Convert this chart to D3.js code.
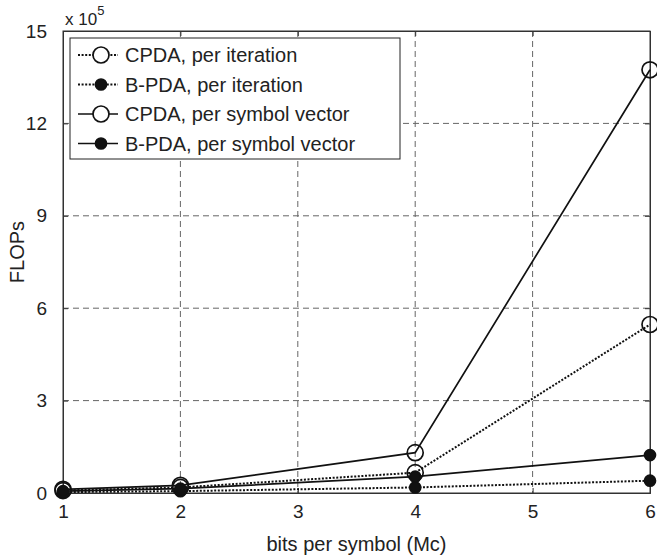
<!DOCTYPE html>
<html lang="en">
<head>
<meta charset="UTF-8">
<title>FLOPs vs bits per symbol</title>
<script src="https://d3js.org/d3.v7.min.js"></script>
<style>
  body { margin: 0; background: #fff; }
  text { font-family: "Liberation Sans", Arial, sans-serif; fill: #222; }
</style>
</head>
<body>
<div id="chart"></div>
<script>
// data (FLOPs in units of 1e5)
const bits = [1, 2, 4, 6];
const cpdaIter = [0.08, 0.18, 0.66, 5.47];
const bpdaIter = [0.03, 0.06, 0.18, 0.40];
const cpdaSym = [0.12, 0.25, 1.31, 13.74];
const bpdaSym = [0.06, 0.14, 0.53, 1.23];
const xTicks = [1, 2, 3, 4, 5, 6];
const yTicks = [0, 3, 6, 9, 12, 15];

const series = [
  { name: "CPDA, per iteration", values: cpdaIter, dotted: true, filled: false },
  { name: "B-PDA, per iteration", values: bpdaIter, dotted: true, filled: true },
  { name: "CPDA, per symbol vector", values: cpdaSym, dotted: false, filled: false },
  { name: "B-PDA, per symbol vector", values: bpdaSym, dotted: false, filled: true }
];

const W = 657, H = 557;
const margin = { top: 31, right: 7, bottom: 64, left: 63 };
const width = W - margin.left - margin.right,
      height = H - margin.top - margin.bottom;

const svg = d3.select("#chart").append("svg")
  .attr("width", W).attr("height", H);
const g = svg.append("g")
  .attr("transform", `translate(${margin.left},${margin.top})`);

const x = d3.scaleLinear().domain([1, 6]).range([0, width]);
const y = d3.scaleLinear().domain([0, 15]).range([height, 0]);

// grid
g.append("g").selectAll("line")
  .data(xTicks.slice(1, -1)).join("line")
  .attr("x1", d => x(d)).attr("x2", d => x(d))
  .attr("y1", 0).attr("y2", height)
  .attr("stroke", "#666").attr("stroke-width", 1)
  .attr("stroke-dasharray", "6,4");
g.append("g").selectAll("line")
  .data(yTicks.slice(1, -1)).join("line")
  .attr("y1", d => y(d)).attr("y2", d => y(d))
  .attr("x1", 0).attr("x2", width)
  .attr("stroke", "#666").attr("stroke-width", 1)
  .attr("stroke-dasharray", "6,4");

// axes
const fmt = d3.format("d");
g.append("g").attr("transform", `translate(0,${height})`)
  .call(d3.axisBottom(x).tickValues(xTicks).tickFormat(fmt).tickSize(-5).tickPadding(12));
g.append("g")
  .call(d3.axisLeft(y).tickValues(yTicks).tickFormat(fmt).tickSize(-5).tickPadding(16));
g.append("g").call(d3.axisTop(x).tickValues(xTicks).tickSize(-5).tickFormat(""));
g.append("g").attr("transform", `translate(${width},0)`)
  .call(d3.axisRight(y).tickValues(yTicks).tickSize(-5).tickFormat(""));
g.selectAll(".domain").attr("stroke", "#333");
g.selectAll(".tick line").attr("stroke", "#333");
g.selectAll(".tick text").style("font-size", "19px").attr("fill", "#222");

// frame
g.append("rect").attr("width", width).attr("height", height)
  .attr("fill", "none").attr("stroke", "#333").attr("stroke-width", 1);

// lines
const line = d3.line().x((d, i) => x(bits[i])).y(d => y(d));
series.forEach(s => {
  g.append("path").datum(s.values)
    .attr("d", line)
    .attr("fill", "none")
    .attr("stroke", "#111")
    .attr("stroke-width", s.dotted ? 2 : 1.7)
    .attr("stroke-dasharray", s.dotted ? "2,1.6" : null);
});
series.forEach(s => {
  g.append("g").selectAll("circle")
    .data(s.values).join("circle")
    .attr("cx", (d, i) => x(bits[i]))
    .attr("cy", d => y(d))
    .attr("r", s.filled ? 5.5 : 8)
    .attr("fill", s.filled ? "#111" : "none")
    .attr("stroke", "#111")
    .attr("stroke-width", 1.7);
});

// legend
const leg = svg.append("g").attr("transform", "translate(70,38)");
leg.append("rect").attr("width", 330).attr("height", 121)
  .attr("fill", "#fff").attr("stroke", "#222").attr("stroke-width", 1);
series.forEach((s, i) => {
  const ry = 17 + i * 29.5;
  leg.append("line").attr("x1", 8).attr("x2", 48).attr("y1", ry).attr("y2", ry)
    .attr("stroke", "#111").attr("stroke-width", s.dotted ? 2 : 1.7)
    .attr("stroke-dasharray", s.dotted ? "2,1.6" : null);
  leg.append("circle").attr("cx", 31).attr("cy", ry)
    .attr("r", s.filled ? 5.5 : 8)
    .attr("fill", s.filled ? "#111" : "#fff")
    .attr("stroke", "#111").attr("stroke-width", 1.7);
  leg.append("text").attr("x", 55).attr("y", ry + 7)
    .style("font-size", "20px").text(s.name);
});

// axis labels
svg.append("text")
  .attr("x", margin.left + width / 2).attr("y", 551)
  .attr("text-anchor", "middle").style("font-size", "20px")
  .text("bits per symbol (Mc)");
svg.append("text")
  .attr("transform", `translate(24,${margin.top + height / 2 - 10}) rotate(-90)`)
  .attr("text-anchor", "middle").style("font-size", "20px")
  .text("FLOPs");

// exponent
const ex = svg.append("text").attr("x", 65).attr("y", 25).style("font-size", "17px");
ex.append("tspan").text("x 10");
ex.append("tspan").attr("dy", -10).style("font-size", "13px").text("5");
</script>
</body>
</html>
